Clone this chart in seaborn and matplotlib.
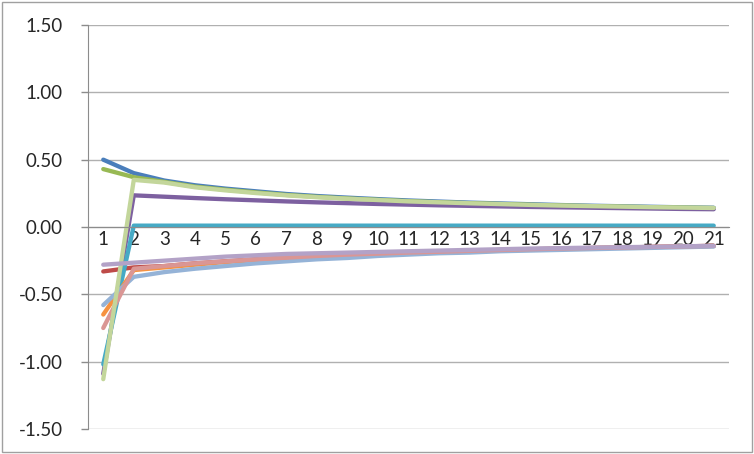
import numpy as np
import pandas as pd
import seaborn as sns
import matplotlib.pyplot as plt
from matplotlib.patches import FancyBboxPatch

# categories 1..21
periods = list(range(1, 22))

# series values (drawn in this order)
s_blue = [0.50, 0.40, 0.345, 0.31, 0.285, 0.265, 0.245, 0.23, 0.218, 0.207, 0.197,
          0.189, 0.181, 0.175, 0.169, 0.163, 0.158, 0.154, 0.150, 0.146, 0.143]
s_red = [-0.33, -0.30, -0.29, -0.27, -0.255, -0.24, -0.23, -0.215, -0.205, -0.20, -0.19,
         -0.185, -0.178, -0.172, -0.166, -0.16, -0.156, -0.152, -0.148, -0.144, -0.14]
s_green = [0.43, 0.37, 0.335, 0.30, 0.277, 0.257, 0.238, 0.224, 0.212, 0.202, 0.192,
           0.184, 0.177, 0.171, 0.165, 0.160, 0.155, 0.151, 0.147, 0.144, 0.141]
s_purple = [-1.09, 0.235, 0.225, 0.215, 0.206, 0.198, 0.19, 0.183, 0.177, 0.171, 0.166,
            0.161, 0.157, 0.153, 0.149, 0.146, 0.143, 0.14, 0.137, 0.134, 0.132]
s_teal = [-1.02, 0.01, 0.01, 0.01, 0.01, 0.01, 0.01, 0.01, 0.01, 0.01, 0.01,
          0.01, 0.01, 0.01, 0.01, 0.01, 0.01, 0.01, 0.01, 0.01, 0.01]
s_orange = [-0.65, -0.32, -0.30, -0.28, -0.26, -0.245, -0.232, -0.22, -0.208, -0.20, -0.192,
            -0.186, -0.179, -0.173, -0.167, -0.161, -0.157, -0.153, -0.149, -0.145, -0.141]
s_ltblue = [-0.58, -0.37, -0.335, -0.31, -0.29, -0.27, -0.255, -0.24, -0.23, -0.215, -0.205,
            -0.195, -0.19, -0.18, -0.175, -0.17, -0.165, -0.16, -0.155, -0.15, -0.145]
s_pink = [-0.75, -0.31, -0.29, -0.27, -0.255, -0.24, -0.228, -0.215, -0.205, -0.198, -0.19,
          -0.184, -0.177, -0.171, -0.165, -0.16, -0.156, -0.152, -0.148, -0.144, -0.14]
s_ltgreen = [-1.13, 0.35, 0.33, 0.295, 0.272, 0.252, 0.235, 0.221, 0.21, 0.2, 0.19,
             0.183, 0.176, 0.17, 0.164, 0.159, 0.155, 0.151, 0.147, 0.144, 0.141]
s_ltpurple = [-0.28, -0.265, -0.25, -0.235, -0.22, -0.21, -0.20, -0.195, -0.19, -0.185, -0.18,
              -0.175, -0.17, -0.165, -0.16, -0.157, -0.153, -0.15, -0.147, -0.143, -0.14]

names = ['S1', 'S2', 'S3', 'S4', 'S5', 'S6', 'S7', 'S8', 'S9', 'S10']
series = [s_blue, s_red, s_green, s_purple, s_teal, s_orange, s_ltblue, s_pink, s_ltgreen, s_ltpurple]
colors = ['#4A7EBB', '#BE4B48', '#98B954', '#7D60A0', '#46AAC5', '#F69240',
          '#95B3D7', '#DA9694', '#C3D69B', '#B3A2C7']

y_ticks = [-1.5, -1.0, -0.5, 0.0, 0.5, 1.0, 1.5]

df = pd.concat([pd.DataFrame({'period': periods, 'value': v, 'series': n})
                for n, v in zip(names, series)], ignore_index=True)

sns.set_style('white')
plt.rcParams['font.family'] = ['Lato', 'DejaVu Sans']

fig = plt.figure(figsize=(7.54, 4.54), dpi=100)
ax = fig.add_axes([88 / 754, 1 - 429 / 454, 641 / 754, 404 / 454])

# outer chart border
fig.patches.append(FancyBboxPatch((2 / 754, 2 / 454), 750 / 754, 450 / 454,
                                  boxstyle='square,pad=0', transform=fig.transFigure,
                                  fill=False, edgecolor='#A0A0A0', linewidth=1))

sns.lineplot(data=df, x='period', y='value', hue='series', hue_order=names,
             palette=dict(zip(names, colors)), linewidth=3.1, legend=False, ax=ax)
for ln in ax.lines:
    ln.set_solid_capstyle('round')
    ln.set_solid_joinstyle('round')

ax.set_xlim(0.5, 21.5)
ax.set_ylim(-1.5, 1.5)
ax.set_yticks(y_ticks)
ax.set_yticklabels([f'{t:.2f}' for t in y_ticks], fontsize=13.5)
ax.yaxis.grid(True, color='#B0B0B0', linewidth=1)
ax.set_axisbelow(True)

# category axis crossing at zero, ticks between categories
ax.spines['bottom'].set_position(('data', 0))
ax.spines['bottom'].set_color('#8C8C8C')
ax.spines['left'].set_color('#8C8C8C')
ax.spines['top'].set_visible(False)
ax.spines['right'].set_visible(False)
ax.set_xticks(np.arange(0.5, 22, 1.0))
ax.set_xticklabels([])
ax.set_xticks(periods, minor=True)
ax.set_xticklabels([str(p) for p in periods], minor=True, fontsize=13.5)
ax.tick_params(axis='x', which='major', direction='out', length=5, color='#8C8C8C', width=1)
ax.tick_params(axis='x', which='minor', length=0, pad=3)
ax.tick_params(axis='y', direction='out', length=5, color='#8C8C8C', width=1, pad=13, left=True)
ax.set_xlabel('')
ax.set_ylabel('')

fig.savefig('out.png', dpi=100)
